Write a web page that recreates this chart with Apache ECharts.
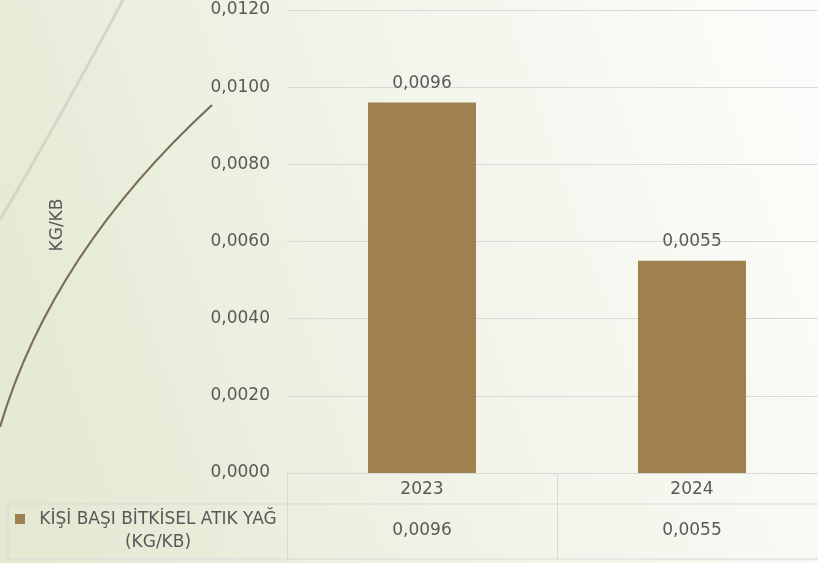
<!DOCTYPE html>
<html>
<head>
<meta charset="utf-8">
<script src="https://cdn.jsdelivr.net/npm/echarts@6/dist/echarts.min.js"></script>
<style>
    html, body { margin: 0; padding: 0; }
    #chart { width: 818px; height: 563px; }
</style>
</head>
<body>
<div id="chart"></div>
<script>
    // chart data
    const categories = ['2023', '2024'];
    const seriesName = 'KİŞİ BAŞI BİTKİSEL ATIK YAĞ';
    const seriesUnit = '(KG/KB)';
    const values = [0.0096, 0.0055];
    const yMin = 0;
    const yMax = 0.012;
    const yStep = 0.002;

    const fontFamily = 'DejaVu Sans';
    const textColor = '#595959';
    const lineColor = '#d9d9d9';
    const barColor = '#9f8150';

    // 0.0096 -> "0,0096"
    const fmt = v => Number(v).toFixed(4).replace('.', ',');

    const chart = echarts.init(document.getElementById('chart'));

    chart.setOption({
        backgroundColor: new echarts.graphic.LinearGradient(0, 0.75, 1, 0.25, [
            {offset: 0, color: '#e3e9d2'},
            {offset: 0.45, color: '#eff3e6'},
            {offset: 1, color: '#fcfcfa'}
        ]),
        animation: false,
        grid: {
            left: 287,
            right: -9,
            top: 10,
            bottom: 90,
            outerBoundsMode: 'none' // table runs past the right edge
        },
        xAxis: [{
            type: 'category',
            data: categories,
            position: 'bottom',
            axisLine: {show: true, lineStyle: {color: lineColor, width: 1}},
            axisTick: {show: true, length: 86, alignWithLabel: false, lineStyle: {color: lineColor}},
            axisLabel: {margin: 8, fontSize: 17, color: textColor, fontFamily: fontFamily}
        }, {
            // value row of the data table
            type: 'category',
            data: values.map(fmt),
            position: 'bottom',
            axisLine: {show: false},
            axisTick: {show: false},
            axisLabel: {margin: 49, fontSize: 17, color: textColor, fontFamily: fontFamily}
        }],
        yAxis: {
            type: 'value',
            min: yMin,
            max: yMax,
            interval: yStep,
            axisLine: {show: false},
            axisTick: {show: false},
            splitLine: {lineStyle: {color: lineColor, width: 1}},
            axisLabel: {
                margin: 17,
                fontSize: 17,
                color: textColor,
                fontFamily: fontFamily,
                formatter: fmt
            }
        },
        series: [{
            name: seriesName + ' ' + seriesUnit,
            type: 'bar',
            xAxisIndex: 0,
            barWidth: '40%',
            data: values,
            itemStyle: {color: barColor},
            label: {
                show: true,
                position: 'top',
                distance: 11,
                fontSize: 17,
                color: textColor,
                fontFamily: fontFamily,
                formatter: p => fmt(p.value)
            }
        }],
        graphic: [
            // slide decoration curves
            {
                type: 'bezierCurve',
                silent: true,
                shape: {x1: 123, y1: 0, x2: 0, y2: 220, cpx1: 64.5, cpy1: 110},
                style: {stroke: '#d4d7c6', lineWidth: 3, fill: null}
            },
            {
                type: 'bezierCurve',
                silent: true,
                shape: {x1: 212, y1: 105, x2: 0, y2: 427, cpx1: 52, cpy1: 252},
                style: {stroke: '#7b6f55', lineWidth: 2.2, fill: null}
            },
            // data table borders
            {
                type: 'line', silent: true,
                shape: {x1: 8, y1: 504, x2: 818, y2: 504},
                style: {stroke: lineColor, lineWidth: 1}
            },
            {
                type: 'line', silent: true,
                shape: {x1: 8, y1: 559, x2: 818, y2: 559},
                style: {stroke: lineColor, lineWidth: 1}
            },
            {
                type: 'line', silent: true,
                shape: {x1: 8, y1: 504, x2: 8, y2: 559},
                style: {stroke: lineColor, lineWidth: 1}
            },
            // legend key
            {
                type: 'rect', silent: true,
                shape: {x: 15, y: 514, width: 10, height: 10},
                style: {fill: barColor}
            },
            {
                type: 'text', silent: true,
                x: 158, y: 531,
                style: {
                    text: seriesName + '\n' + seriesUnit,
                    align: 'center',
                    verticalAlign: 'middle',
                    lineHeight: 23,
                    fontSize: 17,
                    fontFamily: fontFamily,
                    fill: textColor
                }
            },
            // y axis title
            {
                type: 'text', silent: true,
                x: 58, y: 225,
                rotation: Math.PI / 2,
                style: {
                    text: 'KG/KB',
                    align: 'center',
                    verticalAlign: 'middle',
                    fontSize: 17,
                    fontFamily: fontFamily,
                    fill: textColor
                }
            }
        ]
    });
</script>
</body>
</html>
